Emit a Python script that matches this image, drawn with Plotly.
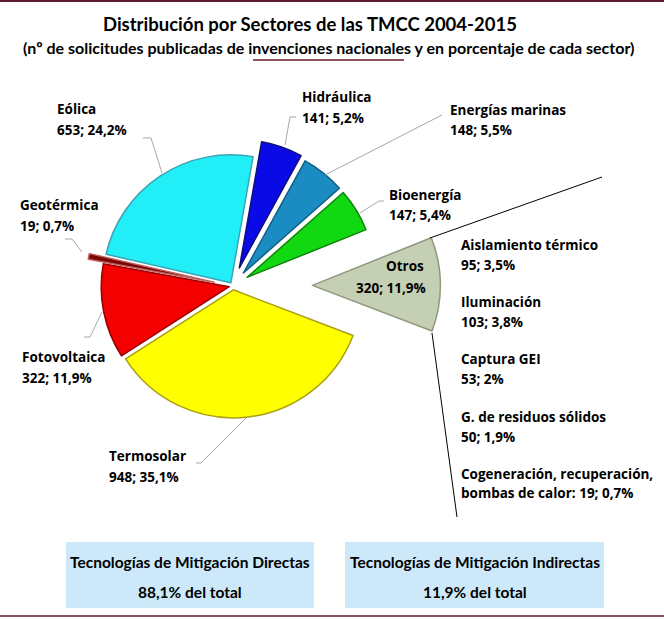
import plotly.graph_objects as go

# datos: solicitudes publicadas de invenciones nacionales por sector (TMCC 2004-2015)
sectores = ['Hidráulica', 'Energías marinas', 'Bioenergía', 'Otros',
            'Termosolar', 'Fotovoltaica', 'Geotérmica', 'Eólica']
solicitudes = [141, 148, 147, 320, 948, 322, 19, 653]
porcentajes = ['5,2%', '5,5%', '5,4%', '11,9%', '35,1%', '11,9%', '0,7%', '24,2%']

# desglose de "Otros"
otros_sectores = ['Aislamiento térmico', 'Iluminación', 'Captura GEI',
                  'G. de residuos sólidos', 'Cogeneración, recuperación,']
otros_solicitudes = [95, 103, 53, 50, 19]
otros_porcentajes = ['3,5%', '3,8%', '2%', '1,9%', '0,7%']

resumen_titulos = ['Tecnologías de Mitigación Directas', 'Tecnologías de Mitigación Indirectas']
resumen_valores = ['88,1% del total', '11,9% del total']

colores = ['#0a0ae6', '#1b8cc2', '#12d812', '#c5cfb3',
           '#ffff00', '#f40000', '#7a0606', '#22eef8']
bordes = ['#10107a', '#0f5f85', '#0a860a', '#8f987e',
          '#aaa010', '#9a0000', '#c06060', '#3aa4b4']
separacion = [0.15, 0.13, 0.13, 0.62, 0.03, 0.03, 0.15, 0.03]

W, H = 664, 619


def px(x):
    return x / W


def py(y):
    return 1 - y / H


fig = go.Figure()
fig.add_trace(go.Pie(
    labels=sectores, values=solicitudes, sort=False, direction='clockwise',
    rotation=10, pull=separacion, textinfo='none', hoverinfo='label+value',
    marker=dict(colors=colores, line=dict(color=bordes, width=1.5)),
    domain=dict(x=[px(25.6), px(440.4)], y=[py(493.4), py(78.6)]),
    showlegend=False,
))

anots = []
fuente = dict(family='Open Sans', size=13.5, color='black')


def texto(x, y, t, anchor='left', font=fuente):
    anots.append(dict(x=px(x), y=py(y), xref='paper', yref='paper', text=t,
                      showarrow=False, xanchor=anchor, yanchor='middle', font=font))


# posiciones de las etiquetas (x izquierda, y linea 1, y linea 2)
pos_etiquetas = {
    'Hidráulica': (300, 97, 118),
    'Energías marinas': (448, 110, 130),
    'Bioenergía': (387, 195, 215),
    'Termosolar': (107, 456, 477),
    'Fotovoltaica': (20, 357, 378),
    'Geotérmica': (18, 205, 226),
    'Eólica': (55, 109, 130),
}
for nombre, v, p in zip(sectores, solicitudes, porcentajes):
    if nombre == 'Otros':
        texto(426, 266, '<b>Otros</b>', anchor='right')
        texto(428, 288, f'<b>{v}; {p}</b>', anchor='right')
        continue
    x, y1, y2 = pos_etiquetas[nombre]
    texto(x, y1, f'<b>{nombre}</b>')
    texto(x, y2, f'<b>{v}; {p}</b>')

y_otros = [(245, 265), (302, 322), (359, 379), (417, 437), (474, 493)]
for i, (nombre, v, p) in enumerate(zip(otros_sectores, otros_solicitudes, otros_porcentajes)):
    y1, y2 = y_otros[i]
    texto(459, y1, f'<b>{nombre}</b>')
    if i == len(otros_sectores) - 1:
        texto(459, y2, f'<b>bombas de calor: {v}; {p}</b>')
    else:
        texto(459, y2, f'<b>{v}; {p}</b>')

# titulo
texto(310, 24, '<b>Distribución por Sectores de las TMCC 2004-2015</b>', anchor='center',
      font=dict(family='Lato', size=18.5, color='black'))
texto(328, 48, '<b>(nº de solicitudes publicadas de invenciones nacionales y en porcentaje de cada sector)</b>',
      anchor='center', font=dict(family='Lato', size=16, color='black'))

# cajas resumen
cajas = [(66, 314), (345, 604)]
shapes = []
for (x0, x1), t, v in zip(cajas, resumen_titulos, resumen_valores):
    shapes.append(dict(type='rect', xref='paper', yref='paper', x0=px(x0), x1=px(x1),
                       y0=py(608), y1=py(542), fillcolor='#cde9f9', line=dict(width=0),
                       layer='below'))
    f = dict(family='Lato', size=15.5, color='black')
    texto((x0 + x1) / 2, 562, f'<b>{t}</b>', anchor='center', font=f)
    texto((x0 + x1) / 2, 592, f'<b>{v}</b>', anchor='center', font=f)


def linea(puntos, color='#a8a8a8', ancho=1):
    d = 'M ' + ' L '.join(f'{px(x):.5f},{py(y):.5f}' for x, y in puntos)
    shapes.append(dict(type='path', xref='paper', yref='paper', path=d,
                       line=dict(color=color, width=ancho)))


# lineas guia
linea([(143, 138), (151, 138), (162, 173)])
linea([(296, 117), (290, 117), (285, 145)])
linea([(442, 115), (325, 175)])
linea([(384, 201), (379, 201), (360, 213)])
linea([(65, 239), (72, 239), (82, 252)])
linea([(84, 337), (90, 337), (102, 312)])
linea([(196, 463), (201, 463), (247, 417)])
# conexion con el desglose de Otros
linea([(430, 238), (602, 177)], color='black')
linea([(432, 333), (457, 517)], color='black')
# subrayado y bordes
linea([(253, 60), (404, 60)], color='#6b1a2a', ancho=1.5)
linea([(0, 1), (664, 1)], color='#5c1a2e', ancho=2)
linea([(0, 616), (664, 616)], color='#5c1a2e', ancho=1.5)

fig.update_layout(
    width=W, height=H, autosize=False,
    margin=dict(l=0, r=0, t=0, b=0),
    paper_bgcolor='white', plot_bgcolor='white',
    annotations=anots, shapes=shapes,
)
fig.write_html('out.html', config={'displayModeBar': False},
               post_script="document.body.style.margin='0';")
